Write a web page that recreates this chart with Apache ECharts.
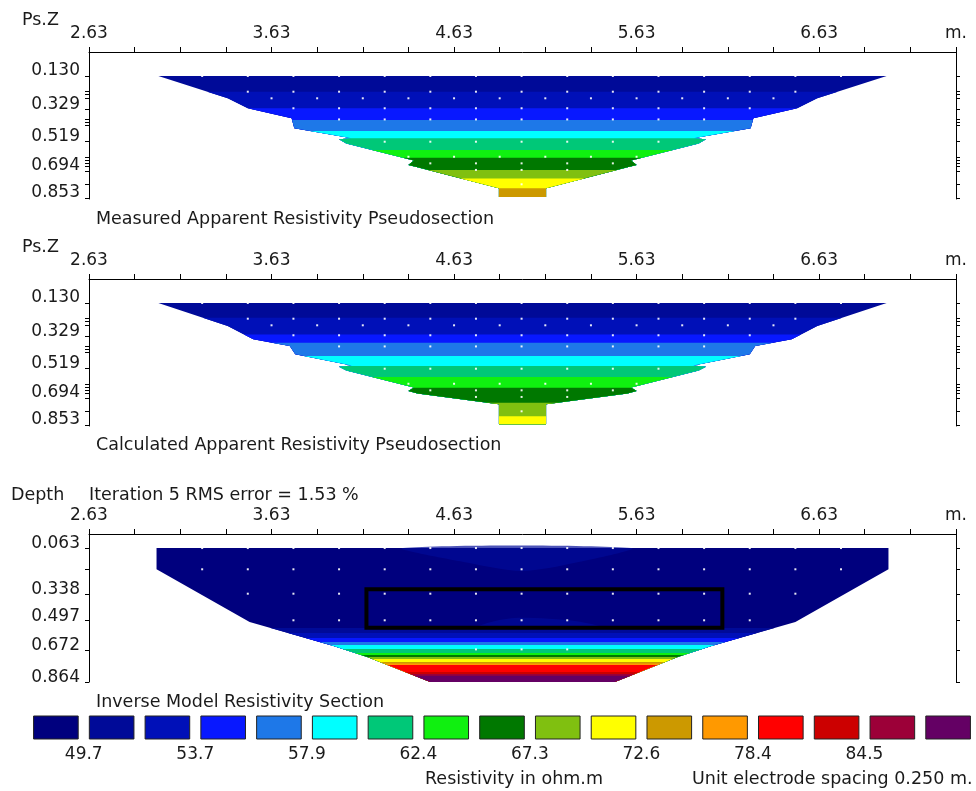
<!DOCTYPE html>
<html><head><meta charset="utf-8">
<script src="https://cdn.jsdelivr.net/npm/echarts@6/dist/echarts.min.js"></script>
<style>html,body{margin:0;padding:0;background:#fff}#c{width:976px;height:791px}</style>
</head><body><div id="c"></div>
<script>
// ---------- axes / tick labels ----------
const xTickValues = [2.63,2.88,3.13,3.38,3.63,3.88,4.13,4.38,4.63,4.88,5.13,5.38,5.63,5.88,6.13,6.38,6.63,6.88,7.13,7.38];
const xLabelValues = [2.63,3.63,4.63,5.63,6.63,7.38];
const xLabelTexts = ['2.63','3.63','4.63','5.63','6.63','m.'];
const psDepthLabels = [0.130,0.329,0.519,0.694,0.853];
const psDepthTicks = [0.130,0.223,0.239,0.262,0.329,0.387,0.404,0.420,0.519,0.608,0.627,0.647,0.667,0.694,0.771,0.853];
const modelDepthLabels = [0.063,0.338,0.497,0.672,0.864];
const modelDepthTicks = [0.063,0.190,0.338,0.497,0.672,0.864];

// ---------- colour scale (legend) ----------
const legendLabelPos = [1,3,5,7,9,11,13,15];
const legendLabels = ['49.7','53.7','57.9','62.4','67.3','72.6','78.4','84.5'];
const legendClasses = [1,2,3,4,5,6,7,8,9,10,11,12,13,14,15,16,17];

// ---------- measured pseudosection ----------
const measLevels = [0.130,0.223,0.321,0.391,0.456,0.499,0.568,0.614,0.686,0.736,0.795];
const measClass  = [2,3,4,5,6,7,8,9,10,11,12];
const measBottom = 0.846;
const measLeftD  = [0.130,0.262,0.321,0.380,0.440,0.499,0.505,0.530,0.630,0.657,0.670,0.795,0.846];
const measLeftX  = [3.01,3.39,3.50,3.74,3.755,4.07,4.00,4.04,4.41,4.38,4.43,4.876,4.876];
const measRightD = [0.130,0.262,0.321,0.380,0.440,0.499,0.505,0.530,0.630,0.657,0.670,0.795,0.846];
const measRightX = [7.00,6.62,6.51,6.27,6.255,5.94,6.01,5.97,5.60,5.63,5.58,5.134,5.134];

// ---------- calculated pseudosection ----------
const calcLevels = [0.130,0.217,0.316,0.365,0.444,0.503,0.568,0.631,0.720,0.800];
const calcClass  = [2,3,4,5,6,7,8,9,10,11];
const calcBottom = 0.848;
const calcLeftD  = [0.130,0.266,0.345,0.385,0.434,0.500,0.507,0.530,0.630,0.651,0.665,0.730,0.848];
const calcLeftX  = [3.01,3.39,3.53,3.73,3.76,4.07,4.00,4.04,4.41,4.38,4.43,4.876,4.876];
const calcRightD = [0.130,0.266,0.345,0.385,0.434,0.500,0.507,0.530,0.630,0.651,0.665,0.730,0.848];
const calcRightX = [7.00,6.62,6.48,6.28,6.25,5.94,6.01,5.97,5.60,5.63,5.58,5.134,5.134];

// measurement points (pseudodepth rows)
const psRowDepth = [0.130,0.223,0.262,0.321,0.387,0.519,0.608,0.647,0.686,0.771];
const psRowX = [
  [3.25,3.5,3.75,4.0,4.25,4.5,4.75,5.0,5.25,5.5,5.75,6.0,6.25,6.5,6.75],
  [3.5,3.75,4.0,4.25,4.5,4.75,5.0,5.25,5.5,5.75,6.0,6.25,6.5],
  [3.63,3.88,4.13,4.38,4.63,4.88,5.13,5.38,5.63,5.88,6.13,6.38],
  [3.75,4.0,4.25,4.5,4.75,5.0,5.25,5.5,5.75,6.0,6.25],
  [4.0,4.25,4.5,4.75,5.0,5.25,5.5,5.75,6.0],
  [4.25,4.5,4.75,5.0,5.25,5.5,5.75],
  [4.38,4.63,4.88,5.13,5.38,5.63],
  [4.5,4.75,5.0,5.25,5.5],
  [4.75,5.0,5.25],
  [5.0]
];

// ---------- inverse model section ----------
const modelLevels = [0.063,0.541,0.571,0.601,0.625,0.643,0.666,0.690,0.702,0.714,0.726,0.744,0.753,0.762,0.804,0.816,0.826];
const modelClass  = [1,2,3,4,5,6,7,8,9,10,11,12,13,14,15,16,17];
const modelBottom = 0.864;
const modelLeftD  = [0.063,0.190,0.505,0.649,0.714,0.864];
const modelLeftX  = [3.00,3.00,3.51,3.97,4.155,4.50];
const modelRightD = [0.063,0.190,0.505,0.649,0.714,0.864];
const modelRightX = [7.01,7.01,6.50,6.04,5.855,5.51];
// slightly higher-resistivity patches inside the model
const patchX = [[4.35,5.60,5.30,5.00,4.70],[4.75,5.45,5.30,5.00,4.85]];
const patchD = [[0.063,0.063,0.150,0.200,0.150],[0.541,0.541,0.500,0.480,0.500]];
const patchClass = [2,2];
// outlined block
const blockX = [4.15,6.10];
const blockD = [0.31,0.54];
const modelRowDepth = [0.063,0.190,0.336,0.495,0.669];
const modelRowX = [
  [3.25,3.5,3.75,4.0,4.25,4.5,4.75,5.0,5.25,5.5,5.75,6.0,6.25,6.5,6.75],
  [3.25,3.5,3.75,4.0,4.25,4.5,4.75,5.0,5.25,5.5,5.75,6.0,6.25,6.5,6.75],
  [3.5,3.75,4.0,4.25,4.5,4.75,5.0,5.25,5.5,5.75,6.0,6.25,6.5],
  [3.75,4.0,4.25,4.5,4.75,5.0,5.25,5.5,5.75,6.0,6.25],
  [4.75,5.0,5.25]
];

// ---------- styles ----------
const PALETTE = ['#00007E','#000A98','#0010B8','#0818FF','#1E78E8','#00FFFF','#00C878','#10F010','#007800','#80C010','#FFFF00','#CC9900','#FF9900','#FF0000','#CC0000','#9C0038','#640064'];
const FONT = 'DejaVu Sans';
const FS = 17;
const TFS = 17.5;
const TXT = '#1a1a1a';

function interpTop(ds, xs, d) {
  let i = -1;
  for (let k = 0; k < ds.length; k++) if (ds[k] <= d) i = k;
  if (i < 0) return xs[0];
  if (ds[i] === d || i === ds.length - 1) return xs[i];
  const t = (d - ds[i]) / (ds[i + 1] - ds[i]);
  return xs[i] + t * (xs[i + 1] - xs[i]);
}
function interpBot(ds, xs, d) {
  let j = ds.length;
  for (let k = ds.length - 1; k >= 0; k--) if (ds[k] >= d) j = k;
  if (j >= ds.length) return xs[ds.length - 1];
  if (ds[j] === d || j === 0) return xs[j];
  const t = (d - ds[j - 1]) / (ds[j] - ds[j - 1]);
  return xs[j - 1] + t * (xs[j] - xs[j - 1]);
}
function edgeSlice(ds, xs, d1, d2) {
  const pts = [[interpTop(ds, xs, d1), d1]];
  for (let k = 0; k < ds.length; k++) if (ds[k] > d1 && ds[k] < d2) pts.push([xs[k], ds[k]]);
  pts.push([interpBot(ds, xs, d2), d2]);
  return pts;
}

function bandSeries(idx, levels, classes, bottom, Ld, Lx, Rd, Rx) {
  return {
    type: 'custom', xAxisIndex: idx, yAxisIndex: idx * 2, silent: true,
    data: levels.map((d, i) => [d, classes[i]]),
    renderItem: function (params, api) {
      const d1 = api.value(0), cls = api.value(1);
      const left = edgeSlice(Ld, Lx, d1, bottom);
      const right = edgeSlice(Rd, Rx, d1, bottom).reverse();
      const pts = left.concat(right).map(p => api.coord(p));
      return { type: 'polygon', shape: { points: pts }, style: { fill: PALETTE[cls - 1], stroke: null } };
    }
  };
}
function dotSeries(idx, rowD, rowX) {
  const data = [];
  rowD.forEach((d, i) => rowX[i].forEach(x => data.push([x, d])));
  return {
    type: 'scatter', xAxisIndex: idx, yAxisIndex: idx * 2, silent: true,
    symbol: 'rect', symbolSize: 2, itemStyle: { color: '#ffffff', opacity: 0.9 }, data: data
  };
}

const grids = [
  { left: 89, top: 52, width: 867, height: 147 },
  { left: 89, top: 279, width: 867, height: 147 },
  { left: 89, top: 534, width: 867, height: 148 },
  { left: 28, top: 716, width: 957, height: 23 }
];
function xAx(gi) {
  return {
    type: 'value', gridIndex: gi, position: 'top', min: 2.63, max: 7.38,
    axisLine: { show: true, onZero: false, lineStyle: { color: '#000', width: 1 } },
    axisTick: { show: true, length: 5, customValues: xTickValues, lineStyle: { color: '#000' } },
    axisLabel: {
      customValues: xLabelValues, margin: 10, fontFamily: FONT, fontSize: FS, color: TXT,
      formatter: v => { const i = xLabelValues.findIndex(t => Math.abs(t - v) < 1e-6); return i >= 0 ? xLabelTexts[i] : ''; }
    },
    splitLine: { show: false }
  };
}
function yAx(gi, min, max, labels, ticks, right, lh) {
  return {
    type: 'value', gridIndex: gi, inverse: true, min: min, max: max, position: right ? 'right' : 'left',
    axisLine: { show: true, onZero: false, lineStyle: { color: '#000', width: 1 } },
    axisTick: { show: true, length: 4, customValues: ticks, lineStyle: { color: '#000' } },
    axisLabel: right ? { show: false } : {
      customValues: labels, margin: 9, fontFamily: FONT, fontSize: FS, color: TXT,
      verticalAlign: 'bottom', lineHeight: lh,
      formatter: v => v.toFixed(3)
    },
    splitLine: { show: false }
  };
}

function title(text, left, top) {
  return { text: text, left: left, top: top, padding: 0, textStyle: { fontFamily: FONT, fontSize: TFS, fontWeight: 'normal', color: TXT } };
}

const option = {
  animation: false,
  backgroundColor: '#fff',
  title: [
    title('Ps.Z', 22, 11),
    title('Measured Apparent Resistivity Pseudosection', 96, 210),
    title('Ps.Z', 22, 238),
    title('Calculated Apparent Resistivity Pseudosection', 96, 436),
    title('Depth', 11, 486),
    title('Iteration 5 RMS error = 1.53 %', 89, 486),
    title('Inverse Model Resistivity Section', 96, 693),
    title('Resistivity in ohm.m', 425, 770),
    title('Unit electrode spacing 0.250 m.', 692, 770)
  ],
  grid: grids,
  xAxis: [xAx(0), xAx(1), xAx(2), {
    type: 'value', gridIndex: 3, min: 0, max: 17, position: 'bottom',
    axisLine: { show: false }, axisTick: { show: false }, splitLine: { show: false },
    axisLabel: {
      customValues: legendLabelPos, margin: 7, fontFamily: FONT, fontSize: FS, color: TXT,
      formatter: v => { const i = legendLabelPos.indexOf(Math.round(v)); return i >= 0 ? legendLabels[i] : ''; }
    }
  }],
  yAxis: [
    yAx(0, -0.012, 0.858, psDepthLabels, psDepthTicks, false, 11),
    yAx(0, -0.012, 0.858, psDepthLabels, psDepthTicks, true, 11),
    yAx(1, -0.012, 0.858, psDepthLabels, psDepthTicks, false, 11),
    yAx(1, -0.012, 0.858, psDepthLabels, psDepthTicks, true, 11),
    yAx(2, -0.021, 0.864, modelDepthLabels, modelDepthTicks, false, 8),
    yAx(2, -0.021, 0.864, modelDepthLabels, modelDepthTicks, true, 8),
    { type: 'value', gridIndex: 3, min: 0, max: 1, show: false }
  ],
  series: [
    bandSeries(0, measLevels, measClass, measBottom, measLeftD, measLeftX, measRightD, measRightX),
    dotSeries(0, psRowDepth, psRowX),
    bandSeries(1, calcLevels, calcClass, calcBottom, calcLeftD, calcLeftX, calcRightD, calcRightX),
    dotSeries(1, psRowDepth, psRowX),
    bandSeries(2, modelLevels, modelClass, modelBottom, modelLeftD, modelLeftX, modelRightD, modelRightX),
    {
      type: 'custom', xAxisIndex: 2, yAxisIndex: 4, silent: true,
      data: patchClass.map((c, i) => [i, c]),
      renderItem: function (params, api) {
        const i = api.value(0), cls = api.value(1);
        const pts = patchX[i].map((x, k) => api.coord([x, patchD[i][k]]));
        return { type: 'polygon', shape: { points: pts, smooth: 0.3 }, style: { fill: PALETTE[cls - 1], opacity: 0.7 } };
      }
    },
    dotSeries(2, modelRowDepth, modelRowX),
    {
      type: 'custom', xAxisIndex: 2, yAxisIndex: 4, silent: true,
      data: [[blockX[0], blockD[0], blockX[1], blockD[1]]],
      renderItem: function (params, api) {
        const p1 = api.coord([api.value(0), api.value(1)]);
        const p2 = api.coord([api.value(2), api.value(3)]);
        return { type: 'rect', shape: { x: p1[0], y: p1[1], width: p2[0] - p1[0], height: p2[1] - p1[1] },
          style: { fill: null, stroke: '#000', lineWidth: 4 } };
      }
    },
    {
      type: 'custom', xAxisIndex: 3, yAxisIndex: 6, silent: true,
      data: legendClasses.map((c, i) => [i, c]),
      renderItem: function (params, api) {
        const i = api.value(0), cls = api.value(1);
        const p1 = api.coord([i + 0.1, 1]);
        const p2 = api.coord([i + 0.9, 0]);
        return { type: 'rect', shape: { x: p1[0], y: p1[1], width: p2[0] - p1[0], height: p2[1] - p1[1] },
          style: { fill: PALETTE[cls - 1], stroke: '#222', lineWidth: 1 } };
      }
    }
  ]
};
const chart = echarts.init(document.getElementById('c'), null, { renderer: 'canvas' });
chart.setOption(option);
</script></body></html>
